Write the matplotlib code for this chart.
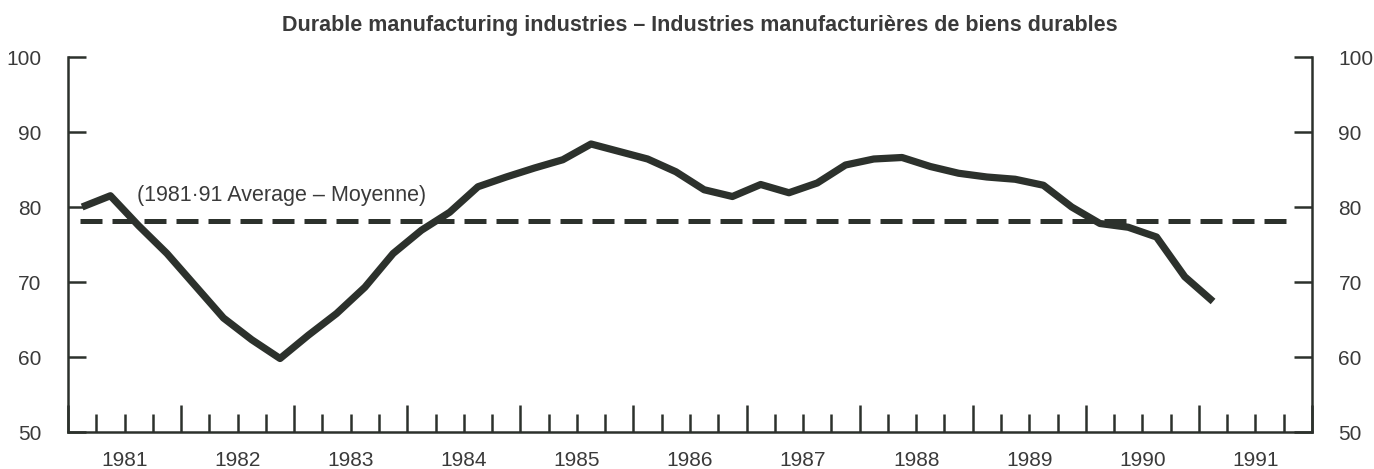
import matplotlib
matplotlib.use("Agg")
import matplotlib.pyplot as plt
import matplotlib.ticker as ticker
import numpy as np

plt.rcParams['font.family'] = ['Liberation Sans', 'DejaVu Sans']

# quarterly index, 1981Q1 .. 1991Q1 (plotted at mid-quarter)
start_year = 1981
values = [80.0, 81.5, 77.5, 73.8, 69.5, 65.2, 62.3, 59.8, 62.9, 65.8,
          69.3, 73.8, 76.9, 79.3, 82.7, 84.0, 85.2, 86.3, 88.4, 87.4,
          86.4, 84.7, 82.3, 81.4, 83.0, 81.9, 83.2, 85.6, 86.4, 86.6,
          85.4, 84.5, 84.0, 83.7, 82.9, 80.0, 77.8, 77.3, 76.0, 70.7,
          67.4]
average = 78.2
average_end = 1991.82
years = list(range(1981, 1992))
yticks = [50, 60, 70, 80, 90, 100]

title = "Durable manufacturing industries – Industries manufacturières de biens durables"
avg_label = "(1981·91 Average – Moyenne)"

x = start_year + 0.125 + 0.25 * np.arange(len(values))

ink = '#2c312c'
txt = '#3a3a3a'

fig = plt.figure(figsize=(13.74, 4.69), dpi=100)
ax = fig.add_axes([68 / 1374, 37 / 469, (1312 - 68) / 1374, (432 - 57) / 469])

ax.plot(x, values, color=ink, lw=5.2, solid_joinstyle='round', solid_capstyle='butt')
ax.hlines(average, x[0] - 0.02, average_end, colors=ink, lw=3.6, linestyles=(0, (4.4, 2.0)))
ax.text(1981.61, 81.6, avg_label, fontsize=15.5, color=txt, va='center', ha='left')

ax.set_xlim(years[0], years[-1] + 1)
ax.set_ylim(50, 100)

# spines
ax.spines['top'].set_visible(False)
for s in ['left', 'right', 'bottom']:
    ax.spines[s].set_linewidth(1.8)
    ax.spines[s].set_color(ink)

# y axis both sides, ticks pointing in
ax.set_yticks(yticks)
ax.tick_params(axis='y', which='major', direction='in', length=13, width=1.8,
               color=ink, labelsize=15, labelcolor=txt, pad=19,
               left=True, right=True, labelleft=True, labelright=True)

# x axis: long ticks at year boundaries, short at quarters, year label mid-year
ax.xaxis.set_major_locator(ticker.MultipleLocator(1))
ax.xaxis.set_minor_locator(ticker.MultipleLocator(0.25))
ax.xaxis.set_major_formatter(ticker.NullFormatter())


def year_label(v, pos):
    if abs(v - np.floor(v) - 0.5) < 1e-6:
        return str(int(np.floor(v)))
    return ''


ax.xaxis.set_minor_formatter(ticker.FuncFormatter(year_label))
ax.tick_params(axis='x', which='major', direction='in', length=19.5, width=1.8, color=ink)
ax.tick_params(axis='x', which='minor', direction='in', length=13, width=1.8, color=ink,
               labelsize=15, labelcolor=txt, pad=14)

fig.text(700 / 1374, 1 - 25 / 469, title, fontsize=15.5, fontweight='bold',
         color=txt, ha='center', va='center')

fig.savefig('out.png', dpi=100, facecolor='white')
